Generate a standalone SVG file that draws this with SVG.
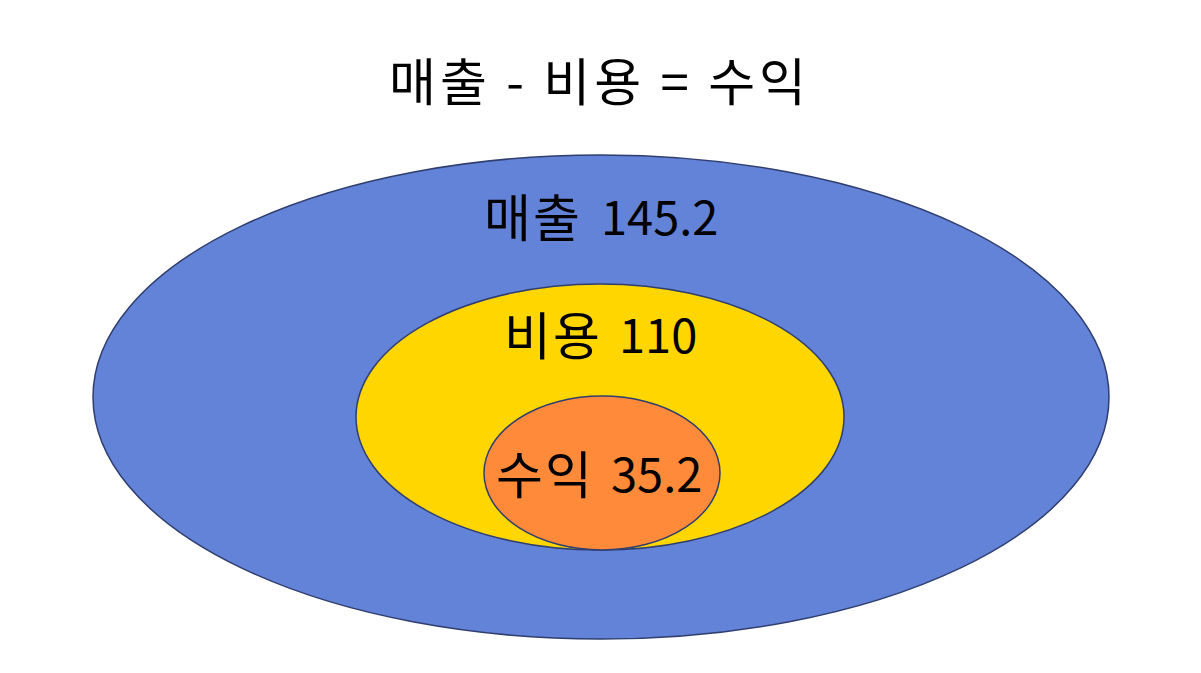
<svg xmlns="http://www.w3.org/2000/svg" width="1201" height="673" viewBox="0 0 1201 673">
<style>
.e{stroke:#2F3E6E;stroke-width:1.5}
.k{font-family:"Noto Sans CJK KR","Noto Sans",sans-serif;font-size:51px;fill:#000;letter-spacing:2px}
.n{font-family:"Noto Sans CJK KR","Noto Sans",sans-serif;font-size:47px;letter-spacing:0}
</style>
<rect width="1201" height="673" fill="#fff"/>
<g id="title"><text class="k" x="389" y="101" textLength="419" lengthAdjust="spacing">매출 - 비용 = 수익</text></g>
<g id="revenue">
<ellipse class="e" cx="601" cy="397" rx="508" ry="242" fill="#6383D8"/>
<text class="k" x="484" y="237">매출<tspan class="n" x="601" y="235">145.2</tspan></text>
</g>
<g id="cost">
<ellipse class="e" cx="600" cy="417" rx="244" ry="133" fill="#FFD600"/>
<text class="k" x="504" y="355">비용<tspan class="n" x="619" y="353">110</tspan></text>
</g>
<g id="profit">
<ellipse class="e" cx="602" cy="473" rx="118" ry="77" fill="#FF8A3A"/>
<text class="k" x="496" y="494">수익<tspan class="n" x="611" y="492">35.2</tspan></text>
</g>
<g id="connectors"/>
</svg>
